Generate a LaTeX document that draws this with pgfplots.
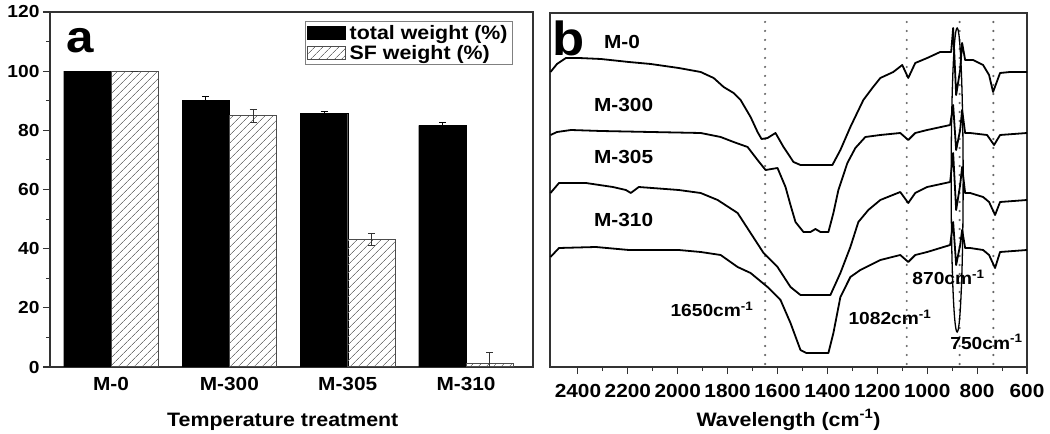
\documentclass[border=0pt]{standalone}
\usepackage{fontspec}
\setmainfont{Liberation Sans}[FakeStretch=1.1]
\usepackage{pgfplots}
\pgfplotsset{compat=1.18}
\usetikzlibrary{patterns.meta}

\newcommand{\tf}{\fontsize{19}{19}\selectfont\bfseries}
\newcommand{\yf}{\fontsize{17.5}{18}\selectfont\bfseries}
\newcommand{\lf}{\fontsize{19.5}{20}\selectfont\bfseries}
\newcommand{\af}{\fontsize{17.5}{18}\selectfont\bfseries}

\begin{document}
\begin{tikzpicture}
\useasboundingbox (0bp,0bp) rectangle (1050bp,434bp);

% ---------- panel a: bars
\begin{axis}[
  at={(50bp,67bp)}, anchor=south west, scale only axis,
  width=483bp, height=355bp,
  xmin=-0.516, xmax=3.566, ymin=0, ymax=120,
  ybar, bar width=0.4,
  xtick={0,1,2,3}, xticklabels={M-0,M-300,M-305,M-310},
  x tick style={draw=none},
  ytick={0,20,...,120}, minor y tick num=1, ytick pos=left,
  tick align=outside, major tick length=7bp, minor tick length=4bp,
  axis line style={line width=1.3bp, black!80},
  every tick/.style={black!80, line width=1.1bp},
  yticklabel style={font=\yf},
  xticklabel style={font=\tf, anchor=center, yshift=-10bp},
  /pgf/number format/assume math mode=true,
  xlabel={Temperature treatment},
  xlabel style={font=\lf, at={(axis description cs:0.482,0)}, anchor=center, yshift=-55bp},
  legend style={at={(1,1)}, anchor=north east, xshift=-20bp, yshift=-9bp,
    draw=black!50, line width=0.8bp, font=\lf, inner sep=1bp, row sep=-2bp,
    nodes={inner xsep=4bp, inner ysep=3bp}, cells={anchor=west}},
]
\addplot[bar shift=-0.2, fill=black, draw=black,
  legend image code/.code={\draw[fill=black,draw=black] (0bp,-6.5bp) rectangle (38bp,6.5bp);},
  error bars/.cd, y dir=both, y explicit,
  error bar style={black, line width=0.9bp},
  error mark options={rotate=90, mark size=3.5bp, black, line width=0.9bp}]
  coordinates {(0,100) +- (0,0) (1,90.1) +- (0,1.5) (2,85.8) +- (0,0.6) (3,81.7) +- (0,1.0)};
\addlegendentry{total weight (\%)}
\addplot[bar shift=0.2, draw=black!70, line width=1bp,
  pattern={Lines[angle=45, distance=6bp, line width=1bp]}, pattern color=black!55,
  legend image code/.code={\draw[draw=black!70, line width=1bp,
    pattern={Lines[angle=45, distance=6bp, line width=1bp]}, pattern color=black!55]
    (0bp,-6.5bp) rectangle (38bp,6.5bp);},
  error bars/.cd, y dir=both, y explicit,
  error bar style={black!80, line width=0.9bp},
  error mark options={rotate=90, mark size=3.5bp, black!80, line width=0.9bp}]
  coordinates {(0,100) +- (0,0) (1,85.0) +- (0,2.2) (2,43.2) +- (0,2.0) (3,1.2) +- (0,3.6)};
\addlegendentry{SF weight (\%)}
\end{axis}
\node[anchor=base west, inner sep=0, font=\fontsize{45}{45}\selectfont\bfseries] at (66bp,381bp) {a};

% ---------- panel b: spectra
\begin{axis}[
  at={(550bp,67bp)}, anchor=south west, scale only axis,
  width=477bp, height=354bp,
  x dir=reverse, xmin=600, xmax=2512, ymin=0, ymax=354,
  xtick={600,800,...,2400}, minor x tick num=1, xtick pos=bottom,
  ytick=\empty,
  tick align=outside, major tick length=7bp, minor tick length=4bp,
  axis line style={line width=1.3bp, black!80},
  every tick/.style={black!80, line width=1.1bp},
  xticklabel style={font=\tf, anchor=center, yshift=-17bp},
  /pgf/number format/assume math mode=true,
  /pgf/number format/set thousands separator={},
  xlabel={Wavelength (cm\textsuperscript{-1})},
  xlabel style={font=\lf, at={(axis description cs:0.5,0)}, anchor=center, yshift=-53bp},
  clip=false,
]
% dotted guide lines
\foreach \w in {1650,1082,870,735}{
  \edef\tmp{\noexpand\draw[black!60, line width=2.4bp, line cap=round, dash pattern=on 0bp off 9bp]
    (axis cs:\w,3) -- (axis cs:\w,352);}\tmp
}
% M-0
\addplot[black, line width=1.8bp, line join=round] coordinates {
(2510,295) (2484,303) (2448,309) (2396,309) (2308,308) (2196,305) (2108,303)
(1996,299) (1908,295) (1856,289) (1816,280) (1776,274) (1748,267) (1708,250)
(1680,235) (1664,228) (1640,229) (1608,234) (1576,220) (1536,205) (1508,202)
(1380,202) (1348,217) (1308,240) (1256,267) (1220,279) (1188,289) (1136,295)
(1100,302) (1076,289) (1048,304) (1000,309) (948,315) (904,315) (896,339)
(884,272) (868,297) (860,324) (848,307) (816,307) (776,302) (752,292)
(736,275) (708,294) (668,295) (600,295)};
% M-300
\addplot[black, line width=1.8bp, line join=round] coordinates {
(2510,232) (2484,235) (2428,237) (2308,236) (2108,235) (1908,234) (1828,230)
(1776,225) (1720,220) (1680,207) (1648,197) (1624,198) (1600,199) (1568,180)
(1548,162) (1528,145) (1496,135) (1468,135) (1448,138) (1428,135) (1396,135)
(1376,154) (1356,177) (1320,204) (1288,219) (1248,230) (1188,232) (1108,234)
(1076,227) (1048,234) (1000,237) (908,242) (896,262) (884,217) (868,237)
(860,257) (848,234) (828,234) (760,232) (732,222) (708,232) (600,234)};
% M-305
\addplot[black, line width=1.8bp, line join=round] coordinates {
(2510,174) (2476,184) (2368,184) (2260,180) (2208,177) (2188,174) (2156,180)
(1996,177) (1908,174) (1840,167) (1760,154) (1708,134) (1656,114) (1600,100)
(1548,80) (1508,72) (1388,72) (1348,94) (1308,120) (1276,145) (1236,157)
(1188,167) (1108,175) (1076,164) (1048,174) (1000,180) (908,185) (896,214)
(884,157) (868,182) (860,200) (848,174) (828,174) (776,170) (752,165)
(728,152) (708,165) (600,167)};
% M-310
\addplot[black, line width=1.8bp, line join=round] coordinates {
(2510,110) (2476,119) (2328,120) (2196,117) (1996,117) (1908,115) (1828,112)
(1760,100) (1708,94) (1640,80) (1588,67) (1548,44) (1508,17) (1484,14)
(1396,14) (1376,34) (1348,70) (1308,90) (1268,97) (1188,107) (1108,112)
(1076,105) (1048,112) (1000,115) (908,122) (896,145) (884,102) (868,122)
(860,137) (848,119) (828,119) (776,117) (752,112) (728,99) (708,115) (600,117)};
% ellipse around the 870 band
\draw[black, line width=1.3bp] (axis cs:880,187) ellipse [x radius=6bp, y radius=152bp];
% labels
\node[anchor=west, inner sep=0, font=\tf] at (axis cs:2296,325) {M-0};
\node[anchor=west, inner sep=0, font=\tf] at (axis cs:2336,262) {M-300};
\node[anchor=west, inner sep=0, font=\tf] at (axis cs:2336,210) {M-305};
\node[anchor=west, inner sep=0, font=\tf] at (axis cs:2336,147) {M-310};
\node[anchor=base east, inner sep=0, font=\af] at (axis cs:1696,50) {1650cm\textsuperscript{-1}};
\node[anchor=base west, inner sep=0, font=\af] at (axis cs:1316,42) {1082cm\textsuperscript{-1}};
\node[anchor=base west, inner sep=0, font=\af] at (axis cs:1060,82) {870cm\textsuperscript{-1}};
\node[anchor=base west, inner sep=0, font=\af] at (axis cs:908,18) {750cm\textsuperscript{-1}};
\end{axis}
\node[anchor=base west, inner sep=0, font=\fontsize{48}{48}\selectfont\bfseries] at (552bp,378bp) {b};
\end{tikzpicture}
\end{document}
